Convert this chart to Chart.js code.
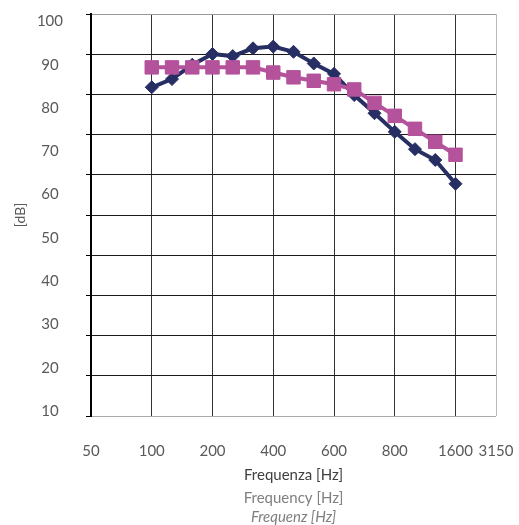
<!DOCTYPE html>
<html>
<head>
<meta charset="utf-8">
<script src="https://cdn.jsdelivr.net/npm/chart.js@4.4.0/dist/chart.umd.min.js"></script>
<style>
  body { margin: 0; background: #fff; }
</style>
</head>
<body>
<canvas id="lineChart" width="519" height="525"></canvas>
<script>
// x categories (only some of them carry a label)
var categories = ['50', '', '', '100', '', '', '200', '', '', '400', '', '', '600', '', '', '800', '', '', '1600', '', '3150'];
// y tick labels
var yLabels = [10, 20, 30, 40, 50, 60, 70, 80, 90, 100];

var seriesBlue = [null, null, null, 84.8, 86.7, 90.0, 92.5, 92.0, 93.8, 94.2, 93.0, 90.3, 87.9,
    83.0, 78.8, 74.5, 70.5, 68.0, 62.5, null, null];
var seriesPink = [null, null, null, 89.4, 89.4, 89.4, 89.4, 89.4, 89.4, 88.2, 87.1, 86.3, 85.5,
    84.3, 81.2, 78.2, 75.2, 72.2, 69.2, null, null];

var font = 'Lato, "Open Sans", sans-serif';

var ctx = document.getElementById('lineChart').getContext('2d');
var myChart = new Chart(ctx, {
    type: 'line',
    data: {
        labels: categories,
        datasets: [{
                label: 'A',
                data: seriesBlue,
                borderColor: '#262E63',
                backgroundColor: '#262E63',
                borderWidth: 4,
                pointStyle: 'rectRot',
                pointRadius: 6.5,
                pointBorderWidth: 1,
                order: 1,
                yAxisID: 'y'
            },
            {
                label: 'B',
                data: seriesPink,
                borderColor: '#B4529B',
                backgroundColor: '#B4529B',
                borderWidth: 4,
                pointStyle: 'rect',
                pointRadius: 9.5,
                pointBorderWidth: 1,
                order: 0,
                yAxisID: 'y'
            }
        ]
    },
    options: {
        responsive: false,
        animation: false,
        layout: { padding: { top: 14, right: 23, left: 0, bottom: 0 } },
        plugins: {
            legend: { display: false },
            tooltip: { enabled: false }
        },
        scales: {
            x: {
                type: 'category',
                weight: 0,
                border: { display: false },
                grid: {
                    drawTicks: true,
                    tickLength: 26,
                    tickColor: 'rgba(0,0,0,0)',
                    color: function (c) {
                        if (categories[c.index] === '') return 'rgba(0,0,0,0)';
                        if (c.index === categories.length - 1) return '#bbbbbb';
                        return '#333333';
                    }
                },
                ticks: {
                    autoSkip: false,
                    maxRotation: 0,
                    padding: 0,
                    color: '#595959',
                    font: { family: font, size: 15 }
                },
                title: {
                    display: true,
                    text: 'Frequenza [Hz]',
                    color: '#404040',
                    font: { family: font, size: 15 },
                    padding: { top: 6, bottom: 0 }
                }
            },
            x2: {
                type: 'category',
                position: 'bottom',
                weight: 1,
                border: { display: false },
                grid: { display: false, drawTicks: false },
                ticks: { display: false },
                title: {
                    display: true,
                    text: 'Frequency [Hz]',
                    color: '#7f7f7f',
                    font: { family: font, size: 15 },
                    padding: { top: 5, bottom: 0 }
                }
            },
            x3: {
                type: 'category',
                position: 'bottom',
                weight: 2,
                border: { display: false },
                grid: { display: false, drawTicks: false },
                ticks: { display: false },
                title: {
                    display: true,
                    text: 'Frequenz [Hz]',
                    color: '#7f7f7f',
                    font: { family: font, size: 15, style: 'italic', lineHeight: 1 },
                    padding: { top: 3, bottom: 0 }
                }
            },
            // axis that carries the printed labels and the data
            y: {
                position: 'left',
                weight: 1,
                min: 8.85,
                max: 101.73,
                afterBuildTicks: function (s) {
                    s.ticks = yLabels.map(function (v) { return { value: v }; });
                },
                afterFit: function (s) { s.width = 86; },
                border: { display: false },
                grid: {
                    drawOnChartArea: false,
                    drawTicks: true,
                    tickLength: 23,
                    color: 'rgba(0,0,0,0)',
                    tickColor: 'rgba(0,0,0,0)'
                },
                ticks: {
                    crossAlign: 'center',
                    padding: 0,
                    color: '#595959',
                    font: { family: font, size: 15 }
                },
                title: {
                    display: true,
                    text: '[dB]',
                    color: '#595959',
                    font: { family: font, size: 14 },
                    padding: { top: 12, bottom: 0 }
                }
            },
            // axis that only draws the grid lines and tick marks
            yg: {
                position: 'left',
                weight: 0,
                min: 0,
                max: 100,
                afterFit: function (s) { s.width = 5; },
                border: { display: true, color: '#000000', width: 2 },
                grid: {
                    drawTicks: true,
                    tickLength: 5,
                    tickColor: '#000000',
                    color: function (c) {
                        if (c.tick.value === 0) return '#aaaaaa';
                        if (c.tick.value === 100) return '#999999';
                        return '#1a1a1a';
                    }
                },
                ticks: { display: false, stepSize: 10 }
            }
        }
    }
});
</script>
</body>
</html>
